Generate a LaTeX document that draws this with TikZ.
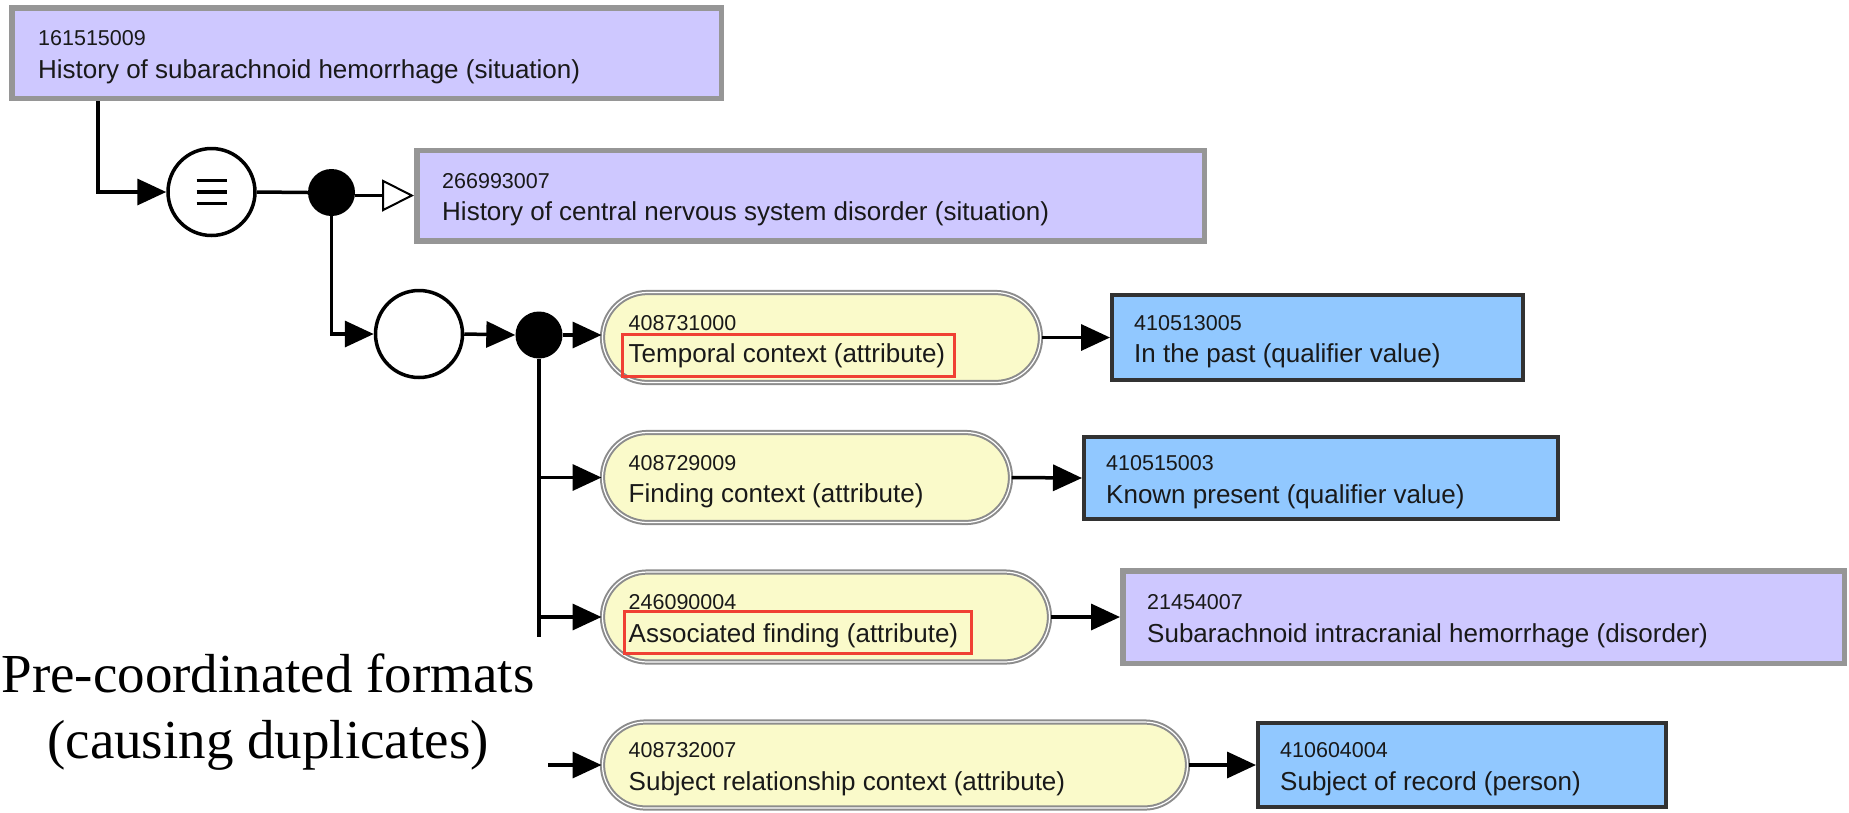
\documentclass[tikz,border=0pt]{standalone}
\usepackage{fontspec}
\setmainfont{Liberation Sans}
\newfontfamily\capfont{Liberation Serif}
\usetikzlibrary{arrows.meta,shapes.misc}
\definecolor{purp}{RGB}{206,200,255}
\definecolor{yel}{RGB}{250,250,202}
\definecolor{blu}{RGB}{145,200,255}
\definecolor{pbord}{RGB}{150,150,150}
\definecolor{ybord}{RGB}{140,140,140}
\definecolor{bbord}{RGB}{50,50,50}
\definecolor{hlred}{RGB}{240,64,52}
\definecolor{txt}{RGB}{25,25,25}
\tikzset{
 pbox/.style={draw=pbord, fill=purp, line width=5.5pt, rectangle, inner sep=0pt},
 bbox/.style={draw=bbord, fill=blu, line width=4pt, rectangle, inner sep=0pt},
 ybox/.style={draw=ybord, fill=yel, double=white, double distance=1.2pt, line width=2pt, rounded rectangle, inner sep=0pt},
 hlbox/.style={draw=hlred, line width=3.2pt, rectangle, inner sep=0pt},
 numtxt/.style={font=\fontsize{21.5}{25}\selectfont, text=txt, anchor=base west, inner sep=0pt},
 ttltxt/.style={font=\fontsize{26}{30}\selectfont, text=txt, anchor=base west, inner sep=0pt},
 conn/.style={line width=3.5pt, draw=black},
 arr/.style={conn, -{Triangle[length=29pt,width=26pt]}},
 oarr/.style={line width=3pt, draw=black, -{Triangle[open,length=32pt,width=32pt,line width=2pt]}},
 ring/.style={circle, draw=black, line width=3.5pt, fill=white, minimum size=87pt, inner sep=0pt},
 eqring/.style={ring, path picture={
   \foreach \dy in {-11.3,0,11.3}
     \draw[line width=3.2pt] ([xshift=-15pt,yshift=\dy pt]path picture bounding box.center) -- ++(30pt,0);}},
 blackdot/.style={circle, fill=black, minimum size=47pt, inner sep=0pt},
 captxt/.style={font=\capfont\fontsize{55}{66}\selectfont, anchor=base, inner sep=0pt},
}
\begin{document}
\begin{tikzpicture}[x=1pt,y=-1pt]
\useasboundingbox (0,0) rectangle (1849,812);

% concept boxes
\node[pbox, minimum width=709.5pt, minimum height=90.5pt] (b1) at (366.5,53) {};
\node[numtxt] (b1n) at ([xshift=29pt,yshift=7.5pt]b1.west) {161515009};
\node[ttltxt] (b1t) at ([xshift=29pt,yshift=-25pt]b1.west) {History of subarachnoid hemorrhage (situation)};

\node[pbox, minimum width=787.5pt, minimum height=90.5pt] (b2) at (810.5,195.5) {};
\node[numtxt] (b2n) at ([xshift=28pt,yshift=7.5pt]b2.west) {266993007};
\node[ttltxt] (b2t) at ([xshift=28pt,yshift=-25pt]b2.west) {History of central nervous system disorder (situation)};

% attribute boxes
\node[ybox, minimum width=438pt, minimum height=90pt] (tmp) at (821.5,337.5) {};
\node[hlbox, minimum width=332pt, minimum height=42pt] (rtmp) at (788.5,355.5) {};
\node[numtxt] (tmpn) at ([xshift=27pt,yshift=7.5pt]tmp.west) {408731000};
\node[ttltxt] (tmpt) at ([xshift=27pt,yshift=-25pt]tmp.west) {Temporal context (attribute)};

\node[ybox, minimum width=408pt, minimum height=90pt] (fnd) at (806.5,477.5) {};
\node[numtxt] (fndn) at ([xshift=27pt,yshift=7.5pt]fnd.west) {408729009};
\node[ttltxt] (fndt) at ([xshift=27pt,yshift=-25pt]fnd.west) {Finding context (attribute)};

\node[ybox, minimum width=447pt, minimum height=90pt] (asc) at (826,617) {};
\node[hlbox, minimum width=347pt, minimum height=42pt] (rasc) at (798,632.5) {};
\node[numtxt] (ascn) at ([xshift=27pt,yshift=7.5pt]asc.west) {246090004};
\node[ttltxt] (asct) at ([xshift=27pt,yshift=-25pt]asc.west) {Associated finding (attribute)};

\node[ybox, minimum width=585pt, minimum height=86pt] (subj) at (895,765) {};
\node[numtxt] (subjn) at ([xshift=27pt,yshift=7.5pt]subj.west) {408732007};
\node[ttltxt] (subjt) at ([xshift=27pt,yshift=-25pt]subj.west) {Subject relationship context (attribute)};

% value boxes
\node[bbox, minimum width=411pt, minimum height=85pt] (bl1) at (1317.5,337.5) {};
\node[numtxt] (bl1n) at ([xshift=24pt,yshift=7.5pt]bl1.west) {410513005};
\node[ttltxt] (bl1t) at ([xshift=24pt,yshift=-25pt]bl1.west) {In the past (qualifier value)};

\node[bbox, minimum width=474pt, minimum height=82pt] (bl2) at (1321,478) {};
\node[numtxt] (bl2n) at ([xshift=24pt,yshift=7.5pt]bl2.west) {410515003};
\node[ttltxt] (bl2t) at ([xshift=24pt,yshift=-25pt]bl2.west) {Known present (qualifier value)};

\node[pbox, minimum width=721.5pt, minimum height=92.5pt] (pu3) at (1483.5,617) {};
\node[numtxt] (pu3n) at ([xshift=27pt,yshift=7.5pt]pu3.west) {21454007};
\node[ttltxt] (pu3t) at ([xshift=27pt,yshift=-25pt]pu3.west) {Subarachnoid intracranial hemorrhage (disorder)};

\node[bbox, minimum width=408pt, minimum height=84pt] (bl4) at (1462,765) {};
\node[numtxt] (bl4n) at ([xshift=24pt,yshift=7.5pt]bl4.west) {410604004};
\node[ttltxt] (bl4t) at ([xshift=24pt,yshift=-25pt]bl4.west) {Subject of record (person)};

% operator nodes
\node[eqring] (eqc) at (211.5,192) {};
\node[blackdot] (dot1) at (331.5,192.5) {};
\node[ring] (emc) at (419,334) {};
\node[blackdot] (dot2) at (539,335) {};

% free ends
\coordinate (vend) at (539,637);
\coordinate (sstart) at (548,765);

% connectors
\draw[arr] ([xshift=89pt]b1.south west) |- (eqc.west);
\draw[conn] (eqc.east) -- (dot1.west);
\draw[oarr] (dot1.east |- b2.west) -- (b2.west);
\draw[arr] (dot1.south) |- (emc.west);
\draw[arr] (emc.east) -- (dot2.west);
\draw[arr] (dot2.east) -- (dot2.east -| tmp.west);
\draw[conn] (dot2.south) -- (vend);
\draw[arr] (dot2.south |- fnd.west) -- (fnd.west);
\draw[arr] (dot2.south |- asc.west) -- (asc.west);
\draw[arr] (sstart) -- (subj.west);
\draw[arr] (tmp.east) -- (bl1.west);
\draw[arr] (fnd.east) -- (bl2.west);
\draw[arr] (asc.east) -- (pu3.west);
\draw[arr] (subj.east) -- (bl4.west);

% caption
\node[captxt] (cap1) at (268,692) {Pre-coordinated formats};
\node[captxt] (cap2) at (268,758) {(causing duplicates)};
\end{tikzpicture}
\end{document}
